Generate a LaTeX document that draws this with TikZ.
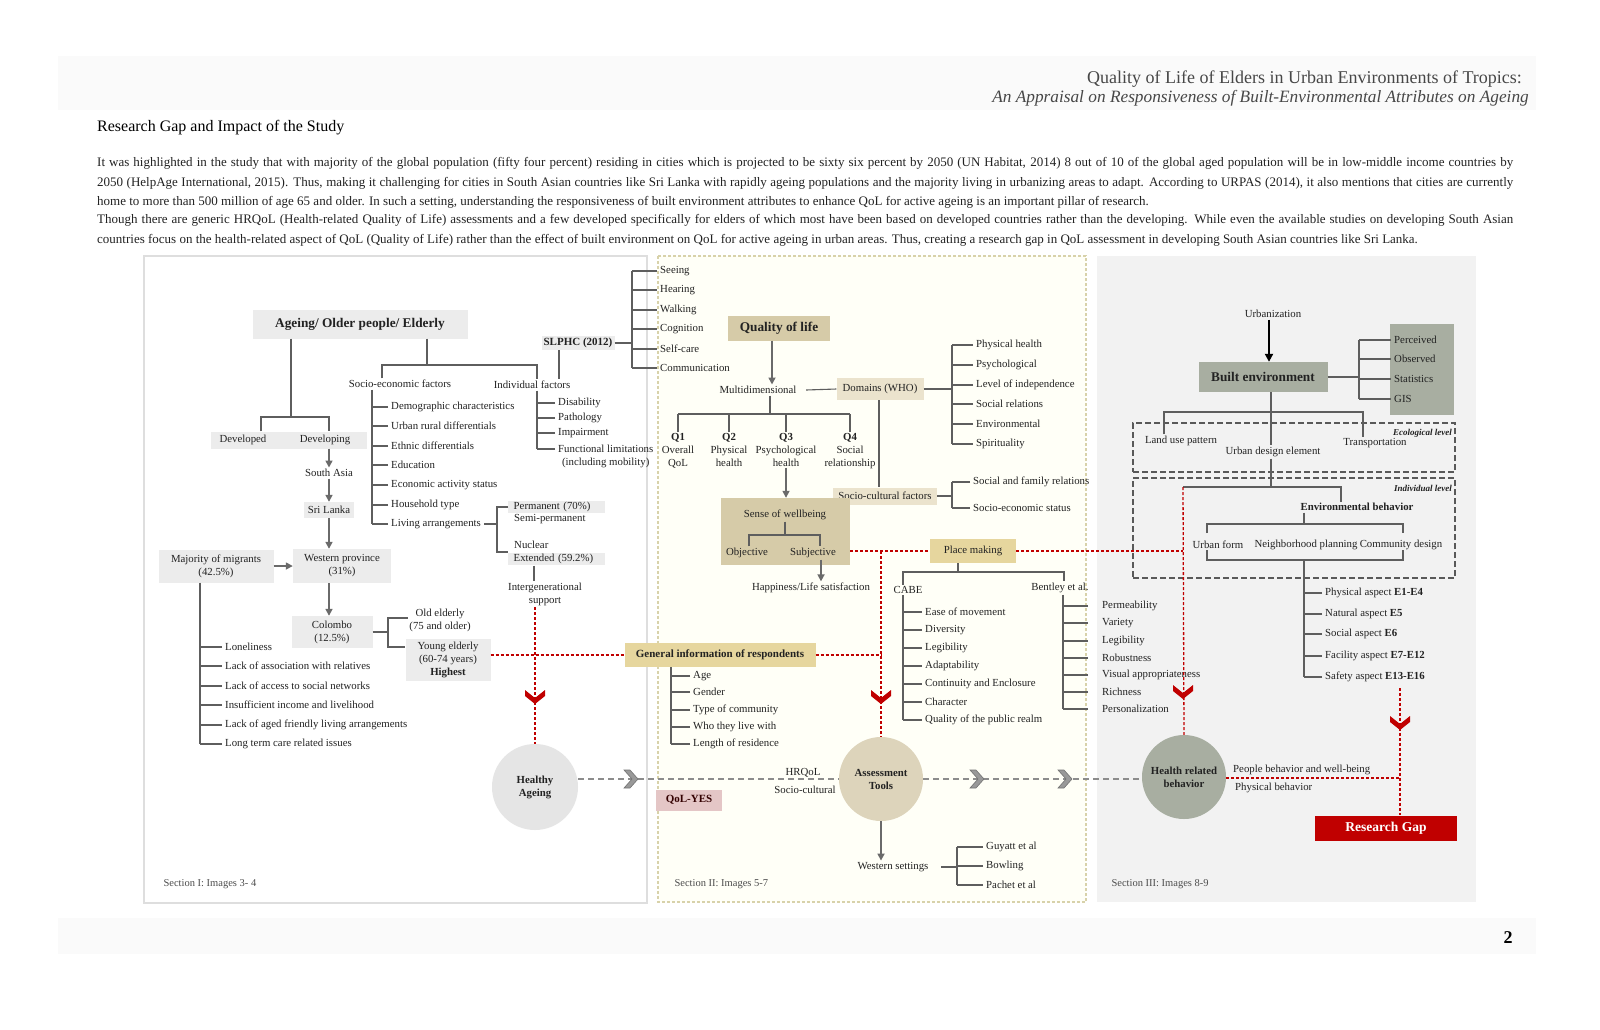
\documentclass[tikz,border=0pt]{standalone}
\usepackage{fontspec}
\setmainfont{Liberation Serif}
\usetikzlibrary{positioning,arrows.meta,calc}
\definecolor{lnc}{HTML}{5E5E5E}
\definecolor{arrc}{HTML}{6A6A6A}
\definecolor{boxg}{HTML}{ECECEC}
\definecolor{tanc}{HTML}{D6CBA8}
\definecolor{tanl}{HTML}{EBE3CD}
\definecolor{tany}{HTML}{E6D69E}
\definecolor{tanr}{HTML}{DDD4BB}
\definecolor{sagec}{HTML}{A8AEA1}
\definecolor{pinkc}{HTML}{E4C6C6}
\definecolor{redc}{HTML}{C00000}
\definecolor{txtc}{HTML}{222222}
\definecolor{secb}{HTML}{D8D2AA}

\begin{document}
\begin{tikzpicture}[x=1pt,y=-1pt,
  ln/.style={draw=lnc,line width=1.1pt},
  arr/.style={draw=arrc,line width=1.6pt,-{Triangle[length=7pt,width=7pt]}},
  rdash/.style={draw=redc,line width=1.3pt,dash pattern=on 3pt off 2pt},
  gdash/.style={draw=black!45,line width=1.7pt,dash pattern=on 6pt off 4pt},
  lvl/.style={draw=black!65,line width=1.6pt,dash pattern=on 6pt off 3pt},
  txt/.style={font=\fontsize{10.8}{13}\selectfont,text=txtc,inner sep=1.5pt},
  item/.style={txt,anchor=west,inner xsep=3pt},
  gbox/.style={txt,fill=boxg,inner sep=1pt,align=center},
  head/.style={font=\bfseries\fontsize{13.3}{15}\selectfont,text=txtc},
  bsmall/.style={font=\bfseries\fontsize{11}{13}\selectfont,text=txtc},
  bcirc/.style={circle,inner sep=0,align=center,font=\bfseries\fontsize{10.8}{13}\selectfont,text=txtc},
  seclab/.style={font=\fontsize{10.5}{12}\selectfont,text=black!70,anchor=west},
  para/.style={anchor=west,inner sep=0,font=\fontsize{13}{15}\selectfont,text=txtc},
  redchev/.pic={\fill[redc] (-10,-7) -- (0,1) -- (10,-7) -- (10,-1) -- (0,7) -- (-10,-1) -- cycle;},
  grchev/.pic={\fill[black!40,draw=black!55,line width=0.6pt] (-7,-9) -- (1,0) -- (-7,9) -- (-1,9) -- (7,0) -- (-1,-9) -- cycle;}]
\fill[white] (0,0) rectangle (1600,1029);
\useasboundingbox (0,0) rectangle (1600,1029);

% page header, text and footer
\fill[black!2] (58,56) rectangle (1536,110);
\node[anchor=east,inner sep=0,font=\fontsize{18}{20}\selectfont,text=black!72] (ttl1) at (1522,79) {Quality of Life of Elders in Urban Environments of Tropics:};
\node[anchor=east,inner sep=0,font=\itshape\fontsize{17.3}{20}\selectfont,text=black!72] (ttl2) at (1529,98) {An Appraisal on Responsiveness of Built-Environmental Attributes on Ageing};
\node[anchor=west,inner sep=0,font=\fontsize{16}{18}\selectfont] (rgh) at (97,128) {Research Gap and Impact of the Study};
\node[para] (p1) at (97,163.5) {\makebox[1416pt][s]{It was highlighted in the study that with majority of the global population (fifty four percent) residing in cities which is projected to be sixty six percent by 2050 (UN Habitat, 2014) 8 out of 10 of the global aged population will be in low-middle income countries by}};
\node[para] (p2) at (97,183) {\makebox[1416pt][s]{2050 (HelpAge International, 2015). Thus, making it challenging for cities in South Asian countries like Sri Lanka with rapidly ageing populations and the majority living in urbanizing areas to adapt. According to URPAS (2014), it also mentions that cities are currently}};
\node[para] (p3) at (97,202) {home to more than 500 million of age 65 and older. In such a setting, understanding the responsiveness of built environment attributes to enhance QoL for active ageing is an important pillar of research.};
\node[para] (p4) at (97,220.5) {\makebox[1416pt][s]{Though there are generic HRQoL (Health-related Quality of Life) assessments and a few developed specifically for elders of which most have been based on developed countries rather than the developing. While even the available studies on developing South Asian}};
\node[para] (p5) at (97,240) {countries focus on the health-related aspect of QoL (Quality of Life) rather than the effect of built environment on QoL for active ageing in urban areas. Thus, creating a research gap in QoL assessment in developing South Asian countries like Sri Lanka.};
\fill[black!2] (58,918) rectangle (1536,954);
\node[font=\bfseries\fontsize{18}{20}\selectfont] (pgno) at (1508,938) {2};

% section panels
\draw[draw=black!13,line width=2.5pt,fill=white] (144,256) rectangle (647,903);
\draw[draw=secb,line width=1.3pt,dash pattern=on 3pt off 2pt,fill=yellow!3!white] (658,256) rectangle (1086,902);
\fill[black!5] (1097,256) rectangle (1476,902);
\node[seclab] (sec1) at (160,884) {Section I: Images 3- 4};
\node[seclab] (sec2) at (671,884) {Section II: Images 5-7};
\node[seclab] (sec3) at (1108,884) {Section III: Images 8-9};

% section I
\node[gbox,head,minimum width=215pt,minimum height=29pt] (ageing) at (360,324) {Ageing/ Older people/ Elderly};
\node[fill=boxg,minimum width=156pt,minimum height=17pt,inner sep=0] (devbox) at (289,440) {};
\node[txt] (devd) at (243,440) {Developed};
\node[txt] (devg) at (325,440) {Developing};
\node[txt] (sasia) at (329,473) {South Asia};
\node[gbox,minimum width=50pt,minimum height=16pt] (slk) at (329,510) {Sri Lanka};
\node[gbox,minimum width=98pt,minimum height=34pt] (wprov) at (342,566) {Western province\\(31\%)};
\node[gbox,minimum width=115pt,minimum height=33pt] (migr) at (216,566) {Majority of migrants\\(42.5\%)};
\node[gbox,minimum width=81pt,minimum height=32pt] (cmb) at (332,632) {Colombo\\(12.5\%)};
\node[txt,align=center] (oldel) at (440,620) {Old elderly\\(75 and older)};
\node[gbox,minimum width=85pt,minimum height=42pt] (yngel) at (448,660) {Young elderly\\(60-74 years)\\\textbf{Highest}};
\draw[ln] (ageing.south -| 291,0) -- (291,417);
\draw[ln] (devbox.north -| 261,0) -- (261,417) -- (329,417) -- (devbox.north -| 329,0);
\draw[arr] (sasia.north |- devbox.south) -- (sasia.north);
\draw[arr] (sasia.south) -- (slk.north);
\draw[arr] (slk.south) -- (slk.south |- wprov.north);
\draw[arr] (wprov.south -| slk) -- (cmb.north -| slk);
\draw[arr] (migr.east) -- (wprov.west);
\draw[ln] (cmb.east) -- (388,632);
\draw[ln] (oldel.west |- 0,618) -- (388,618) -- (388,647) -- (yngel.west |- 0,647);
\foreach \t/\y [count=\i] in {Loneliness/647, Lack of association with relatives/666, Lack of access to social networks/686, Insufficient income and livelihood/705, Lack of aged friendly living arrangements/725, Long term care related issues/744}{
  \node[item] (iss\i) at (222,\y) {\t};
  \draw[ln] (iss\i.west) -- ++(-22,0);
}
\draw[ln] ([xshift=-16pt]migr.south) -- (iss6.west -| 200,0);

\node[txt] (sef) at (400,384) {Socio-economic factors};
\node[txt] (ifac) at (532,385) {Individual factors};
\draw[ln] (ageing.south -| 427,0) -- (427,365);
\draw[ln] (sef.north -| 382,0) -- (382,365) -- (537,365) -- (ifac.north -| 537,0);
\foreach \t/\y [count=\i] in {Demographic characteristics/407, Urban rural differentials/426, Ethnic differentials/446, Education/465, Economic activity status/485, Household type/505, Living arrangements/524}{
  \node[item] (se\i) at (388,\y) {\t};
  \draw[ln] (se\i.west) -- ++(-16,0);
}
\draw[ln] (sef.south -| 372,0) -- (se7.west -| 372,0);
\node[gbox,anchor=west,text width=86pt,align=left,inner xsep=5.5pt,inner ysep=1.5pt] (perm) at (508,507) {Permanent (70\%)};
\node[item] (semi) at (511,519) {Semi-permanent};
\node[item] (nucl) at (511,545) {Nuclear};
\node[gbox,anchor=west,text width=86pt,align=left,inner xsep=5.5pt,inner ysep=1.5pt] (extd) at (508,559) {Extended (59.2\%)};
\draw[ln] (se7.east) -- (497,524);
\draw[ln] (perm.west) -- (497,507) -- (497,552) -- (extd.west |- 0,552);
\node[txt,align=center] (intgen) at (545,594) {Intergenerational\\support};
\draw[ln] (extd.south -| 534,0) -- (intgen.north -| 534,0);
\foreach \t/\y [count=\i] in {Disability/403, Pathology/418, Impairment/433}{
  \node[item] (if\i) at (555,\y) {\t};
  \draw[ln] (if\i.west) -- ++(-18,0);
}
\node[item,align=center,anchor=north west] (if4) at (555,443) {Functional limitations\\(including mobility)};
\draw[ln] (if4.north west) ++(0,6) -- ++(-18,0);
\draw[ln] (ifac.south -| 537,0) -- (537,449);
\node[gbox,bsmall,minimum width=73pt,minimum height=14pt] (slphc) at (578,343) {SLPHC (2012)};
\draw[ln] (slphc.south -| 559,0) -- (ifac.north -| 559,0);
\foreach \t/\y [count=\i] in {Seeing/271, Hearing/290, Walking/310, Cognition/329, Self-care/349, Communication/368}{
  \node[item] (sl\i) at (657,\y) {\t};
  \draw[ln] (sl\i.west) -- ++(-25,0);
}
\draw[ln] (sl1.west -| 632,0) -- (sl6.west -| 632,0);
\draw[ln] (slphc.east) -- (slphc.east -| 632,0);
\node[bcirc,fill=black!10,minimum size=86pt] (healthy) at (535,787) {Healthy\\Ageing};

% section II
\node[fill=tanc,head,minimum width=102pt,minimum height=25pt] (qol) at (779,328) {Quality of life};
\node[txt] (multi) at (758,390) {Multidimensional};
\draw[arr] (qol.south -| 772,0) -- (multi.north -| 772,0);
\node[txt,fill=tanl,minimum width=87pt,minimum height=22pt] (dom) at (880,389) {Domains (WHO)};
\draw[ln] ([xshift=8pt]multi.east) -- (dom.west);
\foreach \t/\y [count=\i] in {Physical health/345, Psychological/365, Level of independence/385, Social relations/404, Environmental/424, Spirituality/444}{
  \node[item] (dm\i) at (973,\y) {\t};
  \draw[ln] (dm\i.west) -- ++(-21,0);
}
\draw[ln] (dom.east) -- (dom.east -| 952,0);
\draw[ln] (dm1.west -| 952,0) -- (dm6.west -| 952,0);
\node[txt,fill=tanl,minimum width=104pt,minimum height=17pt] (scf) at (885,496) {Socio-cultural factors};
\draw[ln] (dom.south -| 879,0) -- (scf.north -| 879,0);
\foreach \t/\y [count=\i] in {Social and family relations/482, Socio-economic status/508}{
  \node[item] (sc\i) at (970,\y) {\t};
  \draw[ln] (sc\i.west) -- ++(-18,0);
}
\draw[ln] (scf.east) -- (scf.east -| 952,0);
\draw[ln] (sc1.west -| 952,0) -- (sc2.west -| 952,0);
\foreach \n/\q/\x/\a/\b in {q1/Q1/678/Overall/QoL, q2/Q2/729/Physical/health, q3/Q3/786/Psychological/health, q4/Q4/850/Social/relationship}{
  \node[txt,align=center,anchor=north,inner sep=1pt] (\n) at (\x,432) {\textbf{\q}\\\a\\\b};
  \draw[ln] (\n.north) -- (\n.north |- 0,414);
}
\draw[ln] (q1.north |- 0,414) -- (q4.north |- 0,414);
\draw[ln] (multi.south -| 770,0) -- (770,414);
\node[fill=tanc,minimum width=129pt,minimum height=67pt,inner sep=0] (swb) at (785.5,531.5) {};
\node[txt] (swbt) at (785,515) {Sense of wellbeing};
\node[txt] (objv) at (747,553) {Objective};
\node[txt] (subj) at (813,553) {Subjective};
\draw[arr] (q3.south) -- (q3.south |- swb.north);
\draw[ln] (swbt.south) -- (swbt.south |- 0,535);
\draw[ln] (objv.north -| 749,0) -- (749,535) -- (820,535) -- (subj.north -| 820,0);
\node[txt] (happy) at (811,588) {Happiness/Life satisfaction};
\draw[arr] (subj.south -| 821,0) -- (happy.north -| 821,0);
\node[fill=tany,bsmall,minimum width=191pt,minimum height=24pt] (ginfo) at (720,655) {General information of respondents};
\foreach \t/\y [count=\i] in {Age/676, Gender/692, Type of community/710, Who they live with/727, Length of residence/744}{
  \node[item] (gi\i) at (690,\y) {\t};
  \draw[ln] (gi\i.west) -- ++(-19,0);
}
\draw[ln] (ginfo.south -| 671,0) -- (gi5.west -| 671,0);
\node[fill=pinkc,bsmall,minimum width=66pt,minimum height=21pt,text=black!80!red] (qolyes) at (689,800) {QoL-YES};
\node[txt] (lhrq) at (803,773) {HRQoL};
\node[txt] (lscul) at (805,790) {Socio-cultural};
\node[bcirc,fill=tanr,minimum size=84pt] (assess) at (881,779) {Assessment\\Tools};
\node[txt] (wset) at (893,867) {Western settings};
\draw[arr] (assess.south) -- (wset.north -| assess);
\foreach \t/\y [count=\i] in {Guyatt et al/847, Bowling/866, Pachet et al/885}{
  \node[item] (ws\i) at (983,\y) {\t};
  \draw[ln] (ws\i.west) -- ++(-26,0);
}
\draw[ln] ([xshift=11pt]wset.east) -- (wset.east -| 957,0);
\draw[ln] (ws1.west -| 957,0) -- (ws3.west -| 957,0);
\node[fill=tany,txt,minimum width=86pt,minimum height=24pt] (place) at (973,551) {Place making};
\node[txt] (cabe) at (908,590) {CABE};
\node[txt] (bent) at (1060,588) {Bentley et al.};
\draw[ln] (place.south -| 958,0) -- (958,572);
\draw[ln] (cabe.north -| 903,0) -- (903,572) -- (1064,572) -- (bent.north -| 1064,0);
\foreach \t/\y [count=\i] in {Ease of movement/612, Diversity/630, Legibility/648, Adaptability/666, Continuity and Enclosure/684, Character/702, Quality of the public realm/720}{
  \node[item] (cb\i) at (922,\y) {\t};
  \draw[ln] (cb\i.west) -- ++(-19,0);
}
\draw[ln] (cabe.south -| 903,0) -- (cb7.west -| 903,0);
\foreach \t/\y [count=\i] in {Permeability/606, Variety/623, Legibility/641, Robustness/658, Visual appropriateness/675, Richness/692, Personalization/709}{
  \node[item] (bl\i) at (1099,\y) {\t};
  \draw[ln] ([xshift=-11pt]bl\i.west) -- ++(-25,0);
}
\draw[ln] (bent.south -| 1063,0) -- (bl7.west -| 1063,0);

% section III
\node[txt] (urb) at (1273,314) {Urbanization};
\node[fill=sagec,head,minimum width=129pt,minimum height=30pt] (built) at (1263,377) {Built environment};
\draw[black,line width=2pt,-{Triangle[length=8pt,width=8pt]}] (urb.south -| 1269,0) -- (built.north -| 1269,0);
\node[fill=sagec,minimum width=64pt,minimum height=91pt,inner sep=0] (meas) at (1422,369.5) {};
\foreach \t/\y [count=\i] in {Perceived/340, Observed/359, Statistics/379, GIS/399}{
  \node[item] (ms\i) at (1391,\y) {\t};
  \draw[ln] (ms\i.west) -- ++(-32,0);
}
\draw[ln] (built.east) -- (built.east -| 1359,0);
\draw[ln] (ms1.west -| 1359,0) -- (ms4.west -| 1359,0);
\node[lvl,minimum width=322pt,minimum height=49pt,inner sep=0] (eco) at (1294,447.5) {};
\node[lvl,minimum width=322pt,minimum height=100pt,inner sep=0] (indv) at (1294,528) {};
\node[anchor=east,inner sep=0,font=\bfseries\itshape\fontsize{9}{10}\selectfont,text=txtc] (ecol) at (1452,433) {Ecological level};
\node[anchor=east,inner sep=0,font=\bfseries\itshape\fontsize{9}{10}\selectfont,text=txtc] (indl) at (1452,488) {Individual level};
\node[txt] (luse) at (1181,441) {Land use pattern};
\node[txt] (trns) at (1375,443) {Transportation};
\node[txt] (ude) at (1273,452) {Urban design element};
\draw[ln] (built.south -| 1271,0) -- (ude.north -| 1271,0);
\draw[ln] (luse.north -| 1164,0) -- (1164,412) -- (1363,412) -- (trns.north -| 1363,0);
\coordinate (jind) at (1183,487);
\node[txt,font=\bfseries\fontsize{10.8}{13}\selectfont] (envb) at (1357,507) {Environmental behavior};
\draw[ln] (ude.south -| 1271,0) -- (1271,487);
\draw[ln] (jind) -- (1341,487) -- (envb.north -| 1341,0);
\draw[ln] (envb.south -| 1304,0) -- (1304,524);
\node[txt] (ufrm) at (1218,545) {Urban form};
\node[txt] (npln) at (1306,545) {Neighborhood planning};
\node[txt] (cdsn) at (1401,545) {Community design};
\draw[ln] (1207,533) -- (1207,524) -- (1403,524) -- (1403,533);
\draw[ln] (1207,550) -- (1207,560) -- (1403,560) -- (1403,550);
\foreach \t/\y [count=\i] in {Physical aspect \textbf{E1-E4}/593, Natural aspect \textbf{E5}/614, Social aspect \textbf{E6}/634, Facility aspect \textbf{E7-E12}/656, Safety aspect \textbf{E13-E16}/677}{
  \node[item] (ea\i) at (1322,\y) {\t};
  \draw[ln] (ea\i.west) -- ++(-18,0);
}
\draw[ln] (1304,560) -- (ea5.west -| 1304,0);
\node[bcirc,fill=sagec,minimum size=84pt] (hrb) at (1184,777) {Health related\\behavior};
\node[item] (pbw) at (1230,770) {People behavior and well-being};
\node[item] (pbh) at (1232,788) {Physical behavior};
\node[fill=redc,text=white,font=\bfseries\fontsize{13.5}{15}\selectfont,minimum width=142pt,minimum height=25pt] (rgap) at (1386,828) {Research Gap};
\coordinate (sgap) at (1400,688);

% red links
\draw[rdash] (intgen.south -| healthy) -- (healthy.north);
\draw[rdash] (yngel.east |- ginfo) -- (ginfo.west);
\draw[rdash] (ginfo.east) -- (ginfo -| assess);
\draw[rdash] (swb.east |- place) -- (place.west);
\draw[rdash] (place -| assess) -- (assess.north);
\draw[rdash] (place.east) -- (place -| jind);
\draw[rdash] (jind) -- (hrb.north);
\draw[rdash] (hrb.east |- 0,778) -- (sgap |- 0,778);
\draw[rdash] (sgap) -- ([xshift=14pt]rgap.north);
\pic at (535,697) {redchev};
\pic at (881,697) {redchev};
\pic at (1183,692) {redchev};
\pic at (1400,723) {redchev};

% grey links
\draw[gdash] (healthy.east |- assess) -- (assess.west);
\draw[gdash] (assess.east) -- (hrb.west |- assess);
\pic at (631,779) {grchev};
\pic at (977,779) {grchev};
\pic at (1065,779) {grchev};
\end{tikzpicture}
\end{document}
